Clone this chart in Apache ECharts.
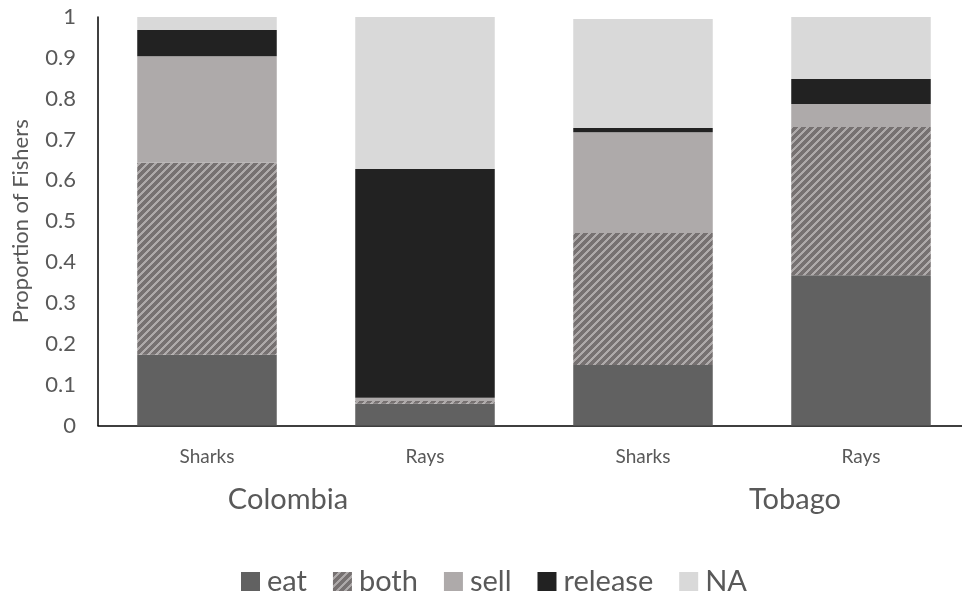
<!DOCTYPE html>
<html>
<head>
<meta charset="utf-8">
<script src="https://cdn.jsdelivr.net/npm/echarts@6/dist/echarts.min.js"></script>
<style>html,body{margin:0;padding:0;background:#fff}#c{width:962px;height:596px}</style>
</head>
<body>
<div id="c"></div>
<script>
var categories = ['Sharks', 'Rays', 'Sharks', 'Rays'];
var groups = ['Colombia', 'Tobago'];
var yTicks = [0, 0.1, 0.2, 0.3, 0.4, 0.5, 0.6, 0.7, 0.8, 0.9, 1];
var eat = [0.173, 0.053, 0.148, 0.368];
var both = [0.470, 0.007, 0.323, 0.363];
var sell = [0.261, 0.008, 0.247, 0.056];
var release = [0.064, 0.560, 0.010, 0.061];
var na = [0.032, 0.372, 0.267, 0.152];

var FONT = 'Lato';
var TXT = '#595959';

function hatch() {
  var n = 8;
  var c = document.createElement('canvas');
  c.width = n; c.height = n;
  var g = c.getContext('2d');
  var img = g.createImageData(n, n);
  for (var y = 0; y < n; y++) {
    for (var x = 0; x < n; x++) {
      var dark = ((x + y) % n) < 5;
      var i = (y * n + x) * 4;
      var col = dark ? [0x76, 0x71, 0x71] : [0xae, 0xaa, 0xaa];
      img.data[i] = col[0]; img.data[i + 1] = col[1]; img.data[i + 2] = col[2]; img.data[i + 3] = 255;
    }
  }
  g.putImageData(img, 0, 0);
  return c;
}

var chart = echarts.init(document.getElementById('c'), null, {renderer: 'canvas'});
function bar(name, data, color) {
  return {
    name: name, type: 'bar', stack: 'total', data: data,
    barCategoryGap: '36%',
    itemStyle: {color: color},
    emphasis: {disabled: true}
  };
}
chart.setOption({
  animation: false,
  textStyle: {fontFamily: FONT},
  grid: {left: 98, top: 17, width: 872, bottom: 170.5, containLabel: false, outerBoundsMode: 'none'},
  xAxis: {
    type: 'category', data: categories,
    axisLine: {lineStyle: {color: '#000', width: 1.5}},
    axisTick: {show: false},
    axisLabel: {color: TXT, fontSize: 19, margin: 22, fontFamily: FONT}
  },
  yAxis: {
    type: 'value', min: yTicks[0], max: yTicks[yTicks.length - 1], interval: 0.1,
    name: 'Proportion of Fishers', nameLocation: 'middle', nameGap: 66,
    nameTextStyle: {color: TXT, fontSize: 22, fontFamily: FONT},
    axisLine: {show: true, lineStyle: {color: '#000', width: 1.5}},
    axisTick: {show: false},
    splitLine: {show: false},
    axisLabel: {color: TXT, fontSize: 22, margin: 22, fontFamily: FONT,
      formatter: function (v) { return String(Math.round(v * 10) / 10); }}
  },
  legend: {
    top: 562, left: 236, itemWidth: 19, itemHeight: 19, itemGap: 26,
    icon: 'rect',
    textStyle: {color: TXT, fontSize: 29, fontFamily: FONT, padding: [0, 0, 0, 2]},
    data: ['eat', 'both', 'sell', 'release', 'NA']
  },
  graphic: [
    {type: 'text', x: 288, y: 500, style: {text: groups[0], fill: TXT, font: '29px ' + FONT, textAlign: 'center', textVerticalAlign: 'middle'}},
    {type: 'text', x: 795, y: 500, style: {text: groups[1], fill: TXT, font: '29px ' + FONT, textAlign: 'center', textVerticalAlign: 'middle'}}
  ],
  series: [
    bar('eat', eat, '#616161'),
    bar('both', both, {image: hatch(), repeat: 'repeat'}),
    bar('sell', sell, '#aeaaaa'),
    bar('release', release, '#222222'),
    bar('NA', na, '#d9d9d9')
  ]
});
</script>
</body>
</html>
